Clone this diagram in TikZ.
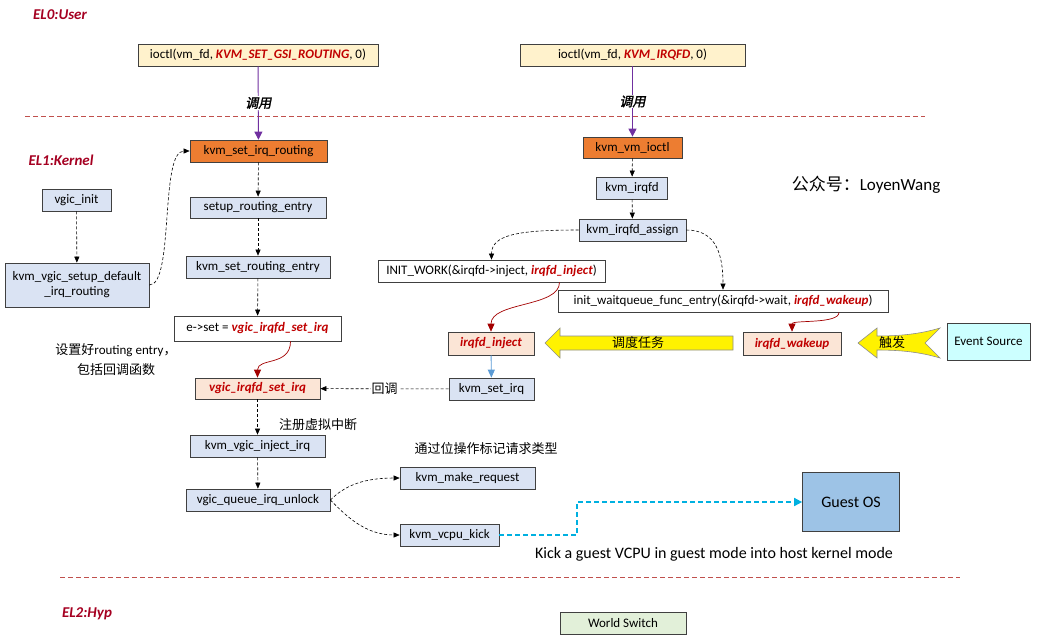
\documentclass[tikz,border=0pt]{standalone}
\usepackage{fontspec}
\setmainfont{Carlito}
\newfontfamily\cjk{Noto Sans CJK SC}
\newfontfamily\cjkbi{Noto Sans CJK SC}[FakeSlant=0.2,FakeBold=2]
\usetikzlibrary{arrows.meta}
\definecolor{elred}{HTML}{A50021}
\definecolor{fnred}{HTML}{C00000}
\definecolor{boxblue}{HTML}{DAE3F3}
\definecolor{boxorange}{HTML}{ED7D31}
\definecolor{boxpeach}{HTML}{FBE5D6}
\definecolor{boxcream}{HTML}{FFF2CC}
\definecolor{callpurple}{HTML}{7030A0}
\definecolor{seprule}{HTML}{C0504D}
\definecolor{kickcyan}{HTML}{00B0E0}
\definecolor{injblue}{HTML}{5B9BD5}
\definecolor{guestblue}{HTML}{9DC3E6}
\definecolor{evcyan}{HTML}{CCFFFF}
\definecolor{wsgreen}{HTML}{E2F0D9}
\newcommand{\fnname}[1]{\textcolor{fnred}{\bfseries\itshape #1}}

\begin{document}
\begin{tikzpicture}[x=1pt,y=-1pt,
    font=\fontsize{13}{15}\selectfont,
    box/.style={draw=black!75,line width=0.7pt,inner sep=0pt,minimum height=22pt},
    fn/.style={box,fill=boxblue},
    entry/.style={box,fill=boxorange},
    cbk/.style={box,fill=boxpeach},
    plain/.style={box,fill=white},
    user/.style={box,fill=boxcream},
    flow/.style={densely dashed,line width=0.6pt,-{Triangle[length=6pt,width=5pt]}},
    call/.style={callpurple,line width=0.9pt,-{Triangle[length=8pt,width=8pt]}},
    cb/.style={fnred!85!black,line width=0.7pt,-{Triangle[length=8pt,width=7pt]}},
    sep/.style={seprule,line width=0.9pt,dash pattern=on 5pt off 3pt},
    lvl/.style={text=elred,font=\fontsize{15}{17}\selectfont\bfseries\itshape},
    note/.style={font=\fontsize{13}{15}\selectfont\cjk},
    calllabel/.style={fill=white,text=black,inner sep=1pt,font=\fontsize{13}{15}\selectfont\cjkbi},
    yarrow/.style={fill=yellow,draw=black!45,line width=0.6pt}]
  \useasboundingbox (0,0) rectangle (1040,641);

  % levels
  \node[lvl] (el0) at (60,15) {EL0:User};
  \node[lvl] (el1) at (61,160) {EL1:Kernel};
  \node[lvl] (el2) at (87,614) {EL2:Hyp};
  \draw[sep] (25,116) -- (925,116);
  \draw[sep] (60,577) -- (960,577);

  % user space
  \node[user,minimum width=240pt] (setgsi) at (258,55) {ioctl(vm\_fd, \fnname{KVM\_SET\_GSI\_ROUTING}, 0)};
  \node[user,minimum width=225pt] (irqfdio) at (632.5,55) {ioctl(vm\_fd, \fnname{KVM\_IRQFD}, 0)};

  % routing side
  \node[entry,minimum width=137pt] (routing) at (258.5,151) {kvm\_set\_irq\_routing};
  \node[fn,minimum width=69pt] (vgicinit) at (76.5,200) {vgic\_init};
  \node[fn,minimum width=144pt,minimum height=44pt,align=center] (defroute) at (77,285) {kvm\_vgic\_setup\_default\\\_irq\_routing};
  \node[fn,minimum width=136pt,minimum height=21pt] (setupent) at (258,207.5) {setup\_routing\_entry};
  \node[fn,minimum width=144pt] (setent) at (258,267) {kvm\_set\_routing\_entry};
  \node[plain,minimum width=167pt,minimum height=25pt] (eset) at (257.5,328.5) {e->set = \fnname{vgic\_irqfd\_set\_irq}};
  \node[cbk,minimum width=125pt,minimum height=21pt] (setirq) at (257.5,388.5) {\fnname{vgic\_irqfd\_set\_irq}};
  \node[fn,minimum width=135pt] (vinject) at (257.5,446) {kvm\_vgic\_inject\_irq};
  \node[fn,minimum width=144pt] (qunlock) at (258,500) {vgic\_queue\_irq\_unlock};
  \node[fn,minimum width=135pt] (makereq) at (467.5,478) {kvm\_make\_request};
  \node[fn,minimum width=99pt] (vkick) at (449.5,535) {kvm\_vcpu\_kick};

  % irqfd side
  \node[entry,minimum width=99pt,minimum height=21pt] (vmioctl) at (632.5,147.5) {kvm\_vm\_ioctl};
  \node[fn,minimum width=71pt] (irqfd) at (632,188) {kvm\_irqfd};
  \node[fn,minimum width=107pt] (assign) at (632.5,230) {kvm\_irqfd\_assign};
  \node[plain,minimum width=227pt] (initwork) at (491.5,271) {INIT\_WORK(\&irqfd->inject, \fnname{irqfd\_inject})};
  \node[plain,minimum width=330pt] (waitq) at (723,301) {init\_waitqueue\_func\_entry(\&irqfd->wait, \fnname{irqfd\_wakeup})};
  \node[cbk,minimum width=86pt,minimum height=23pt] (inject) at (491,343.5) {\fnname{irqfd\_inject}};
  \node[cbk,minimum width=98pt,minimum height=23pt] (wakeup) at (792,343.5) {\fnname{irqfd\_wakeup}};
  \node[box,fill=evcyan,minimum width=83pt,minimum height=37pt] (evsrc) at (988.5,341.5) {Event Source};
  \node[fn,minimum width=85pt] (kvmsetirq) at (491.5,389) {kvm\_set\_irq};
  \node[box,fill=guestblue,minimum width=97pt,minimum height=59pt,font=\fontsize{16}{18}\selectfont] (guest) at (851,502) {Guest OS};
  \node[box,fill=wsgreen,minimum width=126pt] (wswitch) at (623,623) {World Switch};

  % notes
  \node[font=\fontsize{17}{19}\selectfont] (wechat) at (866,185) {{\cjk 公众号：}LoyenWang};
  \node[font=\fontsize{13}{20}\selectfont,align=center] (setnote) at (116,360) {{\cjk 设置好}routing entry{\cjk ，}\\{\cjk 包括回调函数}};
  \node[note] (regnote) at (318,425) {注册虚拟中断};
  \node[note] (bitnote) at (486,449) {通过位操作标记请求类型};
  \node[font=\fontsize{16}{18}\selectfont] (kicknote) at (714,554) {Kick a guest VCPU in guest mode into host kernel mode};

  % yellow arrows
  \filldraw[yarrow] (545,343) -- (560,328) -- (560,336) -- (733,336) -- (733,350) -- (560,350) -- (560,358) -- cycle;
  \node[note] (sched) at (638,343) {调度任务};
  \filldraw[yarrow] (858,343) -- (877,328) -- (877,336) .. controls (900,336) and (920,334) .. (940,328)
    -- (925,343) -- (940,358) .. controls (920,352) and (900,350) .. (877,350) -- (877,358) -- cycle;
  \node[note] (trig) at (892,343) {触发};

  % calls
  \draw[call] (setgsi) -- node[calllabel] {调用} (routing);
  \draw[call] (irqfdio) -- node[calllabel] {调用} (vmioctl);

  \draw[flow] (routing) -- (setupent);
  \draw[flow] (setupent) -- (setent);
  \draw[flow] (setent) -- (eset);
  \draw[flow] (vgicinit) -- (defroute);
  \draw[flow] (defroute.east) .. controls +(25,0) and +(-30,0) .. (routing.west);
  \draw[cb] ([xshift=33pt]eset.south) .. controls +(0,25) and +(0,-20) .. (setirq.north);
  \draw[flow] (setirq) -- (vinject);
  \draw[flow] (vinject) -- (qunlock);
  \draw[flow] (qunlock.east) .. controls +(15,-15) and +(-35,0) .. (makereq.west);
  \draw[flow] (qunlock.east) .. controls +(15,15) and +(-35,0) .. (vkick.west);

  \draw[flow] (vmioctl) -- (irqfd);
  \draw[flow] (irqfd) -- (assign);
  \draw[flow] (assign.west) .. controls +(-60,0) and +(0,-25) .. (initwork.north);
  \draw[flow] (assign.east) .. controls +(30,0) and +(0,-35) .. (waitq.north);
  \draw[cb] ([xshift=68pt]initwork.south) .. controls +(0,25) and +(0,-30) .. (inject.north);
  \draw[cb] ([xshift=116pt]waitq.south) .. controls +(0,12) and +(0,-12) .. (wakeup.north);
  \draw[injblue,line width=0.9pt,-{Triangle[length=8pt,width=7pt]}] (inject) -- (kvmsetirq);
  \draw[flow] (kvmsetirq) -- node[note,fill=white,inner sep=1pt] {回调} (setirq);
  \draw[kickcyan,dash pattern=on 5pt off 3pt,line width=1.6pt,-{Triangle[length=8pt,width=8pt]}] (vkick.east) -- ++(77.5,0) |- (guest.west);
\end{tikzpicture}
\end{document}
